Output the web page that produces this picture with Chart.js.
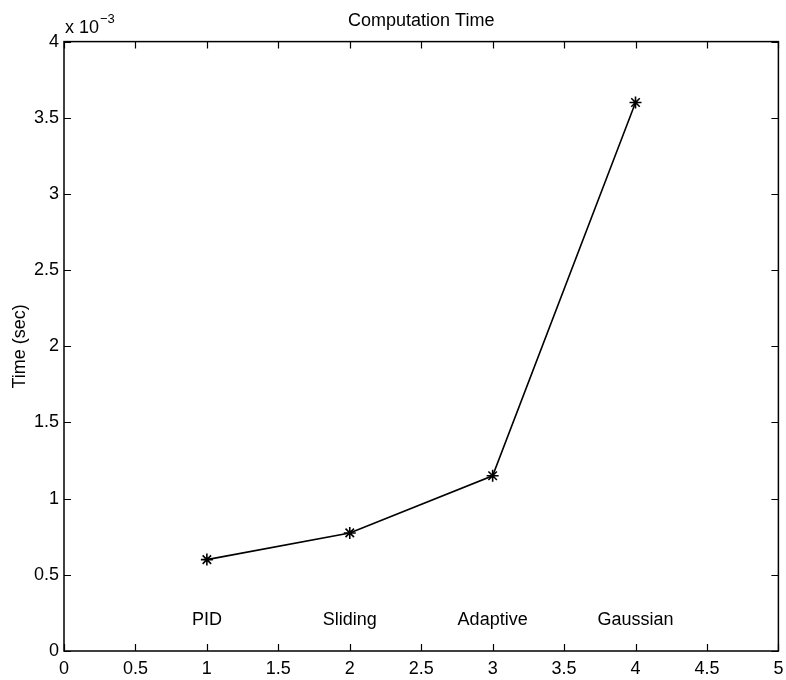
<!DOCTYPE html>
<html>
<head>
<meta charset="utf-8">
<script src="https://cdn.jsdelivr.net/npm/chart.js@4"></script>
<style>
  html, body { margin: 0; padding: 0; background: #fff; }
  #wrap { width: 786px; height: 680px; }
</style>
</head>
<body>
<div id="wrap"><canvas id="timeChart" width="786" height="680"></canvas></div>
<script>
// Controllers, x position and computation time (x 10^-3 sec)
const methods = ['PID', 'Sliding', 'Adaptive', 'Gaussian'];
const methodX = [1, 2, 3, 4];
const compTime = [0.6, 0.775, 1.15, 3.6];
// height at which the method names sit
const labelY = 0.2;

const xTicks = [0, 0.5, 1, 1.5, 2, 2.5, 3, 3.5, 4, 4.5, 5];
const yTicks = [0, 0.5, 1, 1.5, 2, 2.5, 3, 3.5, 4];

const FONT = '"Liberation Sans", Arial, Helvetica, sans-serif';

// matlab style frame: box, inward ticks on all sides, names and exponent
const matlabFrame = {
    id: 'matlabFrame',
    afterDraw(chart) {
        const c = chart.ctx;
        const a = chart.chartArea;
        const xs = chart.scales.x, ys = chart.scales.y;
        c.save();
        c.strokeStyle = '#000';
        c.lineWidth = 1.5;
        c.strokeRect(a.left, a.top, a.right - a.left, a.bottom - a.top);
        c.lineWidth = 1.2;
        c.beginPath();
        xTicks.forEach(v => {
            const px = Math.round(xs.getPixelForValue(v)) + 0.5;
            c.moveTo(px, a.bottom); c.lineTo(px, a.bottom - 7);
            c.moveTo(px, a.top); c.lineTo(px, a.top + 7);
        });
        yTicks.forEach(v => {
            const py = Math.round(ys.getPixelForValue(v)) + 0.5;
            c.moveTo(a.left, py); c.lineTo(a.left + 7, py);
            c.moveTo(a.right, py); c.lineTo(a.right - 7, py);
        });
        c.stroke();

        // method names
        c.fillStyle = '#000';
        c.font = '18px ' + FONT;
        c.textAlign = 'center';
        c.textBaseline = 'middle';
        methods.forEach((m, i) => {
            c.fillText(m, xs.getPixelForValue(methodX[i]), ys.getPixelForValue(labelY));
        });

        // exponent label
        c.textAlign = 'left';
        c.textBaseline = 'alphabetic';
        c.font = '18px ' + FONT;
        c.fillText('x 10', 65, 33);
        c.font = '13px ' + FONT;
        c.fillText('\u22123', 100, 23);
        c.restore();
    }
};

new Chart(document.getElementById('timeChart').getContext('2d'), {
    type: 'line',
    data: {
        datasets: [{
            data: methodX.map((x, i) => ({ x: x, y: compTime[i] })),
            borderColor: '#000',
            backgroundColor: '#000',
            borderWidth: 1.6,
            pointStyle: 'star',
            pointRadius: 6,
            pointBorderWidth: 1.6,
            tension: 0
        }]
    },
    plugins: [matlabFrame],
    options: {
        responsive: false,
        animation: false,
        layout: { padding: { left: 0, right: 4, top: 0, bottom: 0 } },
        plugins: {
            legend: { display: false },
            tooltip: { enabled: false },
            title: {
                display: true,
                fullSize: false,
                text: 'Computation Time',
                color: '#000',
                font: { family: FONT, size: 18, weight: 'normal' },
                padding: { top: 10, bottom: 10 }
            }
        },
        scales: {
            x: {
                type: 'linear',
                min: 0, max: 5,
                afterBuildTicks: s => { s.ticks = xTicks.map(v => ({ value: v })); },
                afterFit: s => { s.height = 29; s.paddingLeft = 0; s.paddingRight = 0; },
                grid: { display: false, drawTicks: false },
                border: { display: false },
                ticks: {
                    color: '#000', padding: 7, maxRotation: 0,
                    font: { family: FONT, size: 18 },
                    callback: v => String(v)
                }
            },
            y: {
                type: 'linear',
                min: 0, max: 4,
                afterBuildTicks: s => { s.ticks = yTicks.map(v => ({ value: v })); },
                afterFit: s => { s.width = 64; },
                grid: { display: false, drawTicks: false },
                border: { display: false },
                title: {
                    display: true,
                    text: 'Time (sec)',
                    color: '#000',
                    padding: { top: 9, bottom: 0 },
                    font: { family: FONT, size: 18 }
                },
                ticks: {
                    color: '#000', padding: 5,
                    font: { family: FONT, size: 18 },
                    callback: v => String(v)
                }
            }
        }
    }
});
</script>
</body>
</html>
